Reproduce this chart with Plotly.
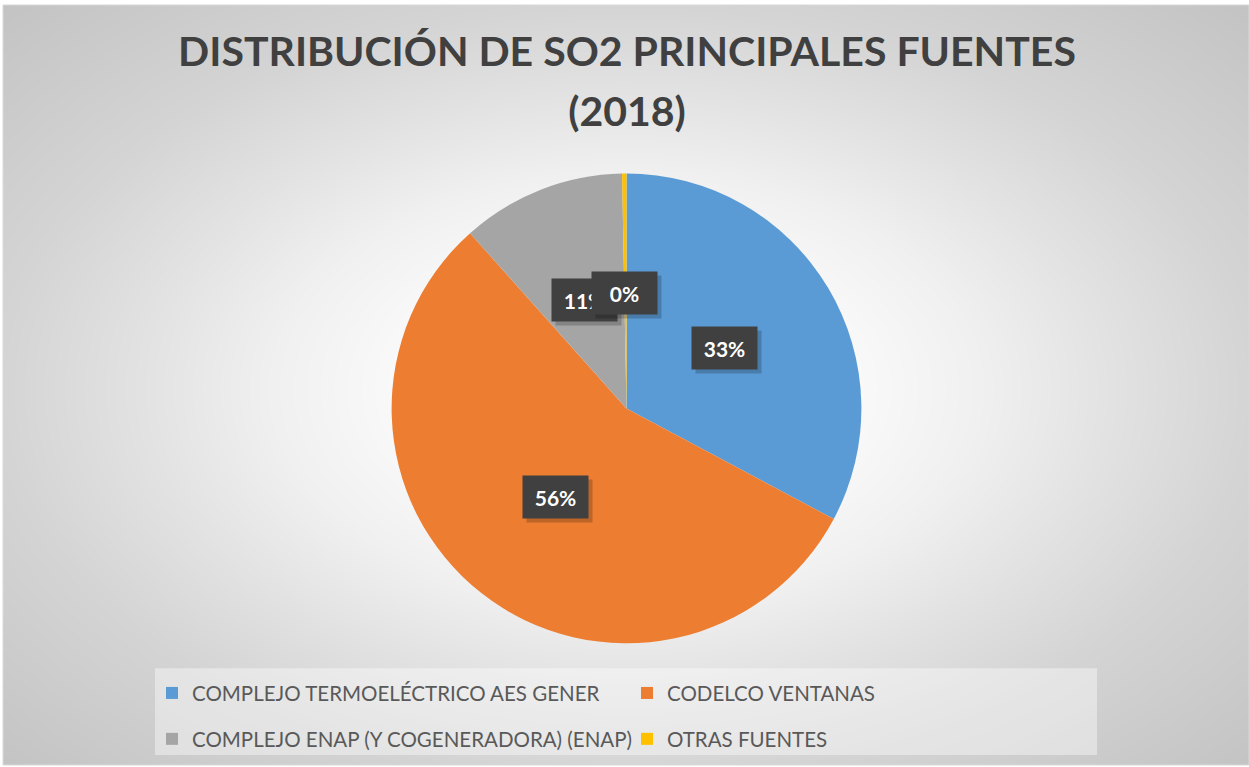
import math
import numpy as np
import plotly.graph_objects as go

# ---- data ----
labels = [
    "COMPLEJO TERMOELÉCTRICO AES GENER",
    "CODELCO VENTANAS",
    "COMPLEJO ENAP (Y COGENERADORA) (ENAP)",
    "OTRAS FUENTES",
]
values = [32.8, 55.6, 11.3, 0.3]
colors = ["#5B9BD5", "#ED7D31", "#A5A5A5", "#FFC000"]
title_line1 = "DISTRIBUCIÓN DE SO2 PRINCIPALES FUENTES"
title_line2 = "(2018)"

W, H = 1249, 767
FONT = "Lato"

# pie geometry (pixels)
PCX, PCY, PR = 626.5, 409.5, 235.5

fig = go.Figure()

# ---- radial gradient background (decoration) ----
gx = np.linspace(3, W, 90)
gy = np.linspace(5, H, 60)
XX, YY = np.meshgrid(gx, gy)
dd = np.sqrt(((XX - 626) / (W / 2)) ** 2 + ((YY - 390) / (H / 2)) ** 2) / math.sqrt(2)
fig.add_trace(go.Heatmap(
    x=gx, y=gy, z=dd, zmin=0, zmax=1, zsmooth="best", showscale=False,
    hoverinfo="skip",
    colorscale=[[0, "rgb(255,255,255)"], [0.2, "rgb(253,253,253)"],
                [0.4, "rgb(240,240,240)"], [0.55, "rgb(226,226,226)"],
                [0.71, "rgb(212,212,212)"], [1, "rgb(195,195,195)"]],
))

# ---- pie ----
legend_labels = [
    f"<span style='font-size:20.5px;baseline-shift:5px'>{l}</span>" for l in labels
]
fig.add_trace(go.Pie(
    labels=legend_labels, values=values, sort=False, direction="clockwise",
    rotation=0, textinfo="none", hoverinfo="label+percent",
    marker=dict(colors=colors, line=dict(width=0)),
    domain=dict(x=[(PCX - PR) / W, (PCX + PR) / W],
                y=[(H - PCY - PR) / H, (H - PCY + PR) / H]),
    showlegend=True,
))

# ---- data labels computed from slice angles ----
total = sum(values)
annotations = []
cum = 0.0
for v in values:
    mid = (cum + v / 2) / total * 2 * math.pi
    cum += v
    r = 0.49 * 234
    px = 626 + r * math.sin(mid)
    py = 408 - r * math.cos(mid)
    txt = f"{round(v / total * 100)}%"
    xp, yp = px / W, 1 - py / H
    # shadow
    annotations.append(dict(
        x=xp, y=yp, xref="paper", yref="paper", text=" ", showarrow=False,
        width=63, height=40, bgcolor="rgba(0,0,0,0.2)", xshift=4, yshift=-4,
        font=dict(size=21, family=FONT),
    ))
    annotations.append(dict(
        x=xp, y=yp, xref="paper", yref="paper", text=f"<b>{txt}</b>",
        showarrow=False, width=63, height=40, bgcolor="#404040",
        font=dict(size=21, family=FONT, color="white"),
    ))

title_html = (f"<b>{title_line1}</b><br>"
              f"<span style='baseline-shift:-7px'><b>{title_line2}</b></span>")

fig.update_layout(
    width=W, height=H,
    margin=dict(l=0, r=0, t=0, b=0),
    paper_bgcolor="white",
    plot_bgcolor="rgba(0,0,0,0)",
    xaxis=dict(domain=[3 / W, 1], range=[3, W], visible=False, fixedrange=True),
    yaxis=dict(domain=[0, 1 - 5 / H], range=[H, 5], visible=False, fixedrange=True),
    title=dict(text=title_html, x=0.502, xanchor="center",
               y=1 - 66 / H, yanchor="top",
               font=dict(size=41, family=FONT, color="#404040")),
    legend=dict(
        orientation="h", x=152 / W, xanchor="left", y=1 - 667 / H, yanchor="top",
        entrywidth=430, entrywidthmode="pixels",
        font=dict(size=33, family=FONT, color="#595959"),
        bgcolor="rgba(0,0,0,0)", traceorder="normal",
    ),
    shapes=[
        dict(type="rect", xref="paper", yref="paper", layer="above",
             x0=155 / W, x1=1097 / W, y0=1 - 757 / H, y1=1 - 670 / H,
             fillcolor="rgba(255,255,255,0.4)", line=dict(width=0)),
        dict(type="rect", xref="paper", yref="paper", layer="above",
             x0=3 / W, x1=1, y0=0, y1=1 - 5 / H,
             fillcolor="rgba(0,0,0,0)", line=dict(width=1, color="#d9d9d9")),
    ],
    annotations=annotations,
)

fig.write_html("out.html", config={"displayModeBar": False},
               post_script="document.body.style.margin='0';")
